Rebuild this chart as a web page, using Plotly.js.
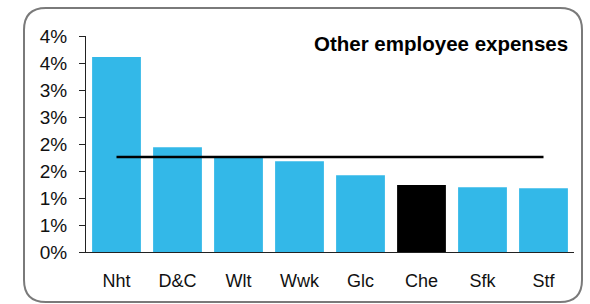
<!DOCTYPE html>
<html>
<head>
<meta charset="utf-8">
<script src="https://cdn.plot.ly/plotly-3.0.1.min.js"></script>
<style>
html,body{margin:0;padding:0;background:#fff;}
#chart{width:590px;height:304px;}
</style>
</head>
<body>
<div id="chart"></div>
<script>
// Data
var categories = ["Nht", "D&C", "Wlt", "Wwk", "Glc", "Che", "Sfk", "Stf"];
var values = [3.61, 1.94, 1.74, 1.68, 1.42, 1.24, 1.20, 1.18];
var barColors = ["#33b8e8", "#33b8e8", "#33b8e8", "#33b8e8", "#33b8e8", "#000000", "#33b8e8", "#33b8e8"];
var averageValue = 1.76;
var tickValues = [0, 0.5, 1, 1.5, 2, 2.5, 3, 3.5, 4];
var tickLabels = ["0%", "1%", "1%", "2%", "2%", "3%", "3%", "4%", "4%"];
var chartTitle = "Other employee expenses";

var W = 590, H = 304;
var M = {l: 86, r: 16, t: 36, b: 52};
var pw = W - M.l - M.r, ph = H - M.t - M.b;
function px(x){ return (x - M.l) / pw; }
function py(y){ return (H - M.b - y) / ph; }

// rounded border path in paper coords
function roundedRect(x0, y0, x1, y1, r){
  var rx = r / pw, ry = r / ph;
  var X0 = px(x0), X1 = px(x1), Y0 = py(y0), Y1 = py(y1); // Y0 top, Y1 bottom
  return "M " + (X0 + rx) + "," + Y0 +
    " L " + (X1 - rx) + "," + Y0 +
    " Q " + X1 + "," + Y0 + " " + X1 + "," + (Y0 - ry) +
    " L " + X1 + "," + (Y1 + ry) +
    " Q " + X1 + "," + Y1 + " " + (X1 - rx) + "," + Y1 +
    " L " + (X0 + rx) + "," + Y1 +
    " Q " + X0 + "," + Y1 + " " + X0 + "," + (Y1 + ry) +
    " L " + X0 + "," + (Y0 - ry) +
    " Q " + X0 + "," + Y0 + " " + (X0 + rx) + "," + Y0 + " Z";
}

var font = "Liberation Sans, Arial, sans-serif";

var traces = [
  {
    type: "bar",
    x: categories,
    y: values,
    marker: {color: barColors, line: {width: 0}},
    hoverinfo: "x+y"
  },
  {
    type: "scatter",
    mode: "lines",
    x: categories,
    y: categories.map(function(){ return averageValue; }),
    line: {color: "#000000", width: 2.5},
    hoverinfo: "y"
  }
];

var layout = {
  width: W, height: H,
  margin: M,
  paper_bgcolor: "#ffffff",
  plot_bgcolor: "#ffffff",
  showlegend: false,
  bargap: 0.2,
  font: {family: font, size: 18, color: "#111111"},
  xaxis: {
    type: "category",
    showgrid: false,
    zeroline: false,
    showline: true,
    linecolor: "#222222",
    linewidth: 1,
    ticks: "",
    tickfont: {family: font, size: 18, color: "#111111"},
    ticklabelstandoff: 12,
    fixedrange: true
  },
  yaxis: {
    range: [0, 4],
    showgrid: false,
    zeroline: false,
    showline: true,
    linecolor: "#222222",
    linewidth: 1,
    ticks: "outside",
    ticklen: 6,
    tickwidth: 1,
    tickcolor: "#222222",
    tickvals: tickValues,
    ticktext: tickLabels,
    tickfont: {family: font, size: 19, color: "#111111"},
    ticklabelstandoff: 8,
    fixedrange: true
  },
  annotations: [
    {
      xref: "paper", yref: "paper",
      x: px(570), y: py(43.5),
      xanchor: "right", yanchor: "middle",
      text: "<b>" + chartTitle + "</b>",
      showarrow: false,
      font: {family: font, size: 20.5, color: "#000000"}
    }
  ],
  shapes: [
    {
      type: "path",
      xref: "paper", yref: "paper",
      path: roundedRect(24, 8, 582, 302, 22),
      line: {color: "#7a7a7a", width: 2},
      fillcolor: "rgba(0,0,0,0)",
      layer: "below"
    }
  ]
};

Plotly.newPlot("chart", traces, layout, {displayModeBar: false, staticPlot: true});
</script>
</body>
</html>
